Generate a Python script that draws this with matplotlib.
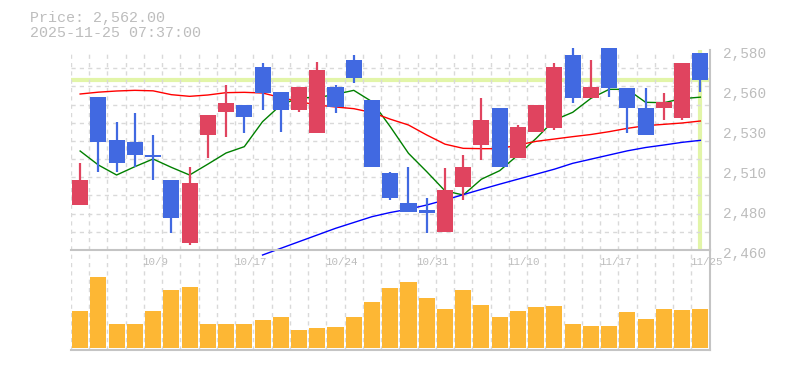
import numpy as np
import matplotlib
matplotlib.use("Agg")
import matplotlib.pyplot as plt
import matplotlib.transforms as mtransforms

# 데이터
dates = ["10/3", "10/6", "10/7", "10/8", "10/9", "10/10", "10/14", "10/15", "10/16", "10/17",
         "10/20", "10/21", "10/22", "10/23", "10/24", "10/27", "10/28", "10/29", "10/30", "10/31",
         "11/4", "11/5", "11/6", "11/7", "11/10", "11/11", "11/12", "11/13", "11/14", "11/17",
         "11/18", "11/19", "11/20", "11/21", "11/25"]
date_ticks = ["10/9", "10/17", "10/24", "10/31", "11/10", "11/17", "11/25"]

opens = [2487, 2552, 2526, 2525, 2517, 2502, 2464, 2529, 2543, 2547,
         2570, 2555, 2544, 2530, 2558, 2574, 2550, 2506, 2488, 2484,
         2471, 2498, 2523, 2545, 2515, 2531, 2533, 2577, 2551, 2581,
         2557, 2545, 2545, 2539, 2578]
closes = [2502, 2525, 2512, 2517, 2516, 2479, 2500, 2541, 2548, 2540,
          2554, 2544, 2558, 2568, 2546, 2563, 2510, 2491, 2483, 2482,
          2496, 2510, 2538, 2510, 2534, 2547, 2570, 2551, 2558, 2557,
          2545, 2529, 2549, 2572, 2562]
highs = [2512, 2552, 2537, 2542, 2529, 2502, 2510, 2541, 2559, 2547,
         2572, 2555, 2558, 2573, 2559, 2577, 2550, 2507, 2510, 2491,
         2509, 2517, 2551, 2545, 2535, 2547, 2572, 2581, 2574, 2581,
         2557, 2557, 2554, 2572, 2578]
lows = [2487, 2507, 2507, 2510, 2502, 2470, 2463, 2515, 2528, 2530,
        2544, 2531, 2543, 2530, 2542, 2560, 2510, 2490, 2483, 2470,
        2471, 2490, 2514, 2510, 2515, 2531, 2532, 2548, 2551, 2552,
        2530, 2529, 2538, 2538, 2555]
volumes = [37, 71, 24, 24, 37, 58, 61, 24, 24, 24,
           28, 31, 18, 20, 21, 31, 46, 60, 66, 50,
           39, 58, 43, 31, 37, 41, 42, 24, 22, 22,
           36, 29, 39, 38, 39]

ma5 = [2519.4, 2511, 2505, 2510, 2514.6, 2509.6, 2505, 2511.5, 2518.2, 2522,
       2537, 2547, 2551.4, 2551.4, 2553.4, 2555.8, 2549, 2534, 2518, 2507,
       2495.5, 2493, 2502.5, 2507.6, 2517, 2527, 2538, 2542.6, 2551, 2556.4,
       2556.4, 2548.6, 2548.4, 2550.8, 2551.7]
ma25 = [2553.6, 2554.7, 2555.4, 2555.8, 2555.5, 2553.2, 2552.2, 2553, 2554.4, 2554.6,
        2554.2, 2551.5, 2549, 2547, 2545.8, 2544.8, 2542.5, 2538.5, 2535, 2529,
        2523.5, 2521, 2520.8, 2520.8, 2523, 2525.2, 2526.6, 2528, 2529.3, 2531,
        2533, 2534.6, 2535.4, 2536.2, 2537.4]
ma75 = [np.nan] * 10 + [2457, 2461, 2465, 2469, 2473, 2476.5, 2480, 2482.5, 2484.5, 2487,
                        2490, 2493.2, 2496.4, 2499.5, 2502.5, 2505.5, 2508.5, 2512, 2514.5, 2517,
                        2519.5, 2521.5, 2523, 2524.6, 2525.8]

ytick_labels = ["2,460", "2,480", "2,510", "2,530", "2,560", "2,580"]
last_price = 2562.0
last_time = "2025-11-25 07:37:00"

# 스타일
font = "Liberation Mono"
gray_txt = "#bdbdbd"
grid_c = "#d9d9d9"
frame_c = "#c4c4c4"
up_c = "#e0445f"
down_c = "#4169e1"
vol_c = "#fdb734"
cross_c = "#e2f5a8"

n = len(dates)
x = np.arange(n)
ymin, ymax = 2460, 2580

fig = plt.figure(figsize=(7.85, 3.7), dpi=100)
W, H = 785, 370
left, right = 71 / W, 709.5 / W

# 거래량 (먼저 만들어 아래에 깔리게)
axv = fig.add_axes([left, (H - 350) / H, right - left, 100 / H])
axv.bar(x, volumes, width=0.88, color=vol_c, zorder=2)
axv.set_xlim(-0.5, n - 0.5)
axv.set_ylim(-2, 98)
axv.set_xticks(np.arange(n + 1) - 0.5)
axv.set_xticklabels([])
axv.set_yticks([])
axv.tick_params(length=0)
axv.grid(True, axis="x", color=grid_c, linestyle=(0, (3, 3)), linewidth=1)
for s in ["top", "left"]:
    axv.spines[s].set_visible(False)
for s in ["bottom", "right"]:
    axv.spines[s].set_color(frame_c)
    axv.spines[s].set_linewidth(1.5)
for d in date_ticks:
    i = dates.index(d)
    axv.text(i - 0.57, 0.88, d, transform=axv.get_xaxis_transform(), ha="left", va="center",
             color=gray_txt, fontsize=7.8, family=font)

# 캔들 차트
ax = fig.add_axes([left, (H - 250) / H, right - left, 200 / H])
ax.patch.set_alpha(0)
ax.set_xlim(-0.5, n - 0.5)
ax.set_ylim(ymin, ymax)

ax.axhline(last_price, color=cross_c, linewidth=3, zorder=1)
ax.axvline(n - 1, color=cross_c, linewidth=3, zorder=1)

ax.plot(x, ma5, color="green", linewidth=1.0, zorder=2, clip_on=False)
ax.plot(x, ma25, color="red", linewidth=1.0, zorder=2, clip_on=False)
ax.plot(x, ma75, color="blue", linewidth=1.0, zorder=2, clip_on=False)

for i in range(n):
    c = up_c if closes[i] >= opens[i] else down_c
    ax.vlines(i, lows[i], highs[i], color=c, linewidth=1.6, zorder=3, clip_on=False)
    lo = min(opens[i], closes[i])
    h = max(abs(closes[i] - opens[i]), 1.2)
    ax.bar(i, h, bottom=lo, width=0.88, color=c, zorder=4, clip_on=False)

ax.set_xticks(np.arange(n + 1) - 0.5)
ax.set_xticklabels([])
ax.set_yticks(np.linspace(ymin, ymax, 12), minor=True)
ax.set_yticks(np.linspace(ymin, ymax, 6))
ax.set_yticklabels(ytick_labels)
ax.yaxis.tick_right()
ax.tick_params(axis="y", which="both", length=0, pad=10, labelcolor=gray_txt, labelsize=10.4)
ax.tick_params(axis="x", length=0)
shift = mtransforms.ScaledTranslation(0, -2.5 / 100, fig.dpi_scale_trans)
for lab in ax.get_yticklabels():
    lab.set_family(font)
    lab.set_transform(lab.get_transform() + shift)
ax.grid(True, which="both", color=grid_c, linestyle=(0, (3, 3)), linewidth=1)
ax.grid(False, axis="y", which="major")
for s in ["top", "left"]:
    ax.spines[s].set_visible(False)
for s in ["bottom", "right"]:
    ax.spines[s].set_color(frame_c)
    ax.spines[s].set_linewidth(1.5)

# 제목 텍스트
fig.text(30 / W, (H - 18) / H, "Price: {:,.2f}".format(last_price), color=gray_txt,
         fontsize=10.8, family=font, va="center")
fig.text(30 / W, (H - 33) / H, last_time, color=gray_txt, fontsize=10.8, family=font, va="center")

fig.savefig("out.png", dpi=100)
